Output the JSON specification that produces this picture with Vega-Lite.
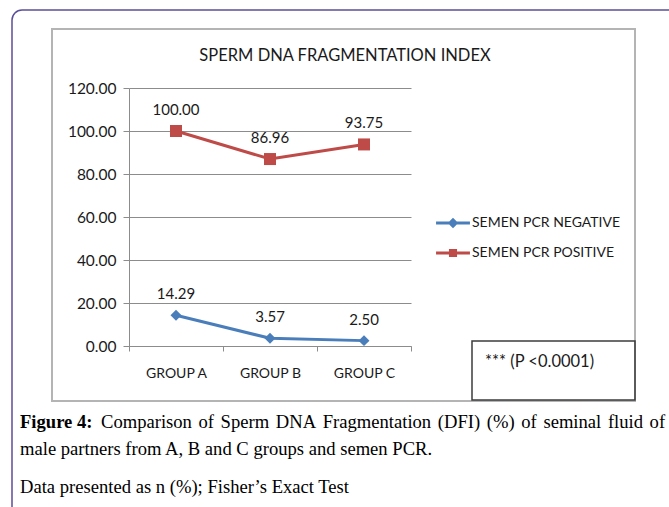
{
  "$schema": "https://vega.github.io/schema/vega-lite/v6.json",
  "width": 282,
  "height": 258,
  "autosize": {"type": "none"},
  "padding": {"left": 129, "top": 88, "right": 258, "bottom": 161},
  "background": "white",
  "title": {
    "text": "SPERM DNA FRAGMENTATION INDEX",
    "font": "Lato",
    "fontSize": 16.5,
    "fontWeight": "normal",
    "color": "#1a1a1a",
    "anchor": "middle",
    "baseline": "bottom",
    "dx": 75,
    "offset": -71
  },
  "config": {"view": {"stroke": null}, "font": "Lato"},
  "layer": [
    {
      "data": {"values": [{"box": "outer"}]},
      "mark": {"type": "rect", "filled": false, "stroke": "#5c4f98", "strokeWidth": 1.5, "cornerRadius": 10},
      "encoding": {"x": {"value": -117}, "y": {"value": -78}, "x2": {"value": 570}, "y2": {"value": 450}}
    },
    {
      "data": {"values": [{"box": "inner"}]},
      "mark": {"type": "rect", "filled": false, "stroke": "#b4b4b4", "strokeWidth": 2},
      "encoding": {"x": {"value": -77}, "y": {"value": -59}, "x2": {"value": 506}, "y2": {"value": 313}}
    },
    {
      "data": {"values": [{"box": "p"}]},
      "mark": {"type": "rect", "filled": false, "stroke": "#3c3c3c", "strokeWidth": 1.5},
      "encoding": {"x": {"value": 343}, "y": {"value": 253}, "x2": {"value": 506}, "y2": {"value": 312}}
    },
    {
      "data": {"values": [{"note": "*** (P <0.0001)"}]},
      "mark": {"type": "text", "align": "left", "baseline": "middle", "font": "Lato", "fontSize": 16.5, "color": "#1a1a1a"},
      "encoding": {"text": {"field": "note"}, "x": {"value": 356}, "y": {"value": 274}}
    },
    {
      "data": {"values": [{"cap": "Figure 4:"}]},
      "mark": {"type": "text", "align": "left", "baseline": "middle", "font": "Liberation Serif", "fontSize": 18.6, "fontWeight": "bold", "color": "#000000"},
      "encoding": {"text": {"field": "cap"}, "x": {"value": -109}, "y": {"value": 334}}
    },
    {"data": {"values": [{"cap": "Comparison"}]}, "mark": {"type": "text", "align": "left", "baseline": "middle", "font": "Liberation Serif", "fontSize": 18.6, "color": "#000000"}, "encoding": {"text": {"field": "cap"}, "x": {"value": -28}, "y": {"value": 334}}},
    {"data": {"values": [{"cap": "of"}]}, "mark": {"type": "text", "align": "left", "baseline": "middle", "font": "Liberation Serif", "fontSize": 18.6, "color": "#000000"}, "encoding": {"text": {"field": "cap"}, "x": {"value": 69.5}, "y": {"value": 334}}},
    {"data": {"values": [{"cap": "Sperm"}]}, "mark": {"type": "text", "align": "left", "baseline": "middle", "font": "Liberation Serif", "fontSize": 18.6, "color": "#000000"}, "encoding": {"text": {"field": "cap"}, "x": {"value": 91.6}, "y": {"value": 334}}},
    {"data": {"values": [{"cap": "DNA"}]}, "mark": {"type": "text", "align": "left", "baseline": "middle", "font": "Liberation Serif", "fontSize": 18.6, "color": "#000000"}, "encoding": {"text": {"field": "cap"}, "x": {"value": 146.8}, "y": {"value": 334}}},
    {"data": {"values": [{"cap": "Fragmentation"}]}, "mark": {"type": "text", "align": "left", "baseline": "middle", "font": "Liberation Serif", "fontSize": 18.6, "color": "#000000"}, "encoding": {"text": {"field": "cap"}, "x": {"value": 193.7}, "y": {"value": 334}}},
    {"data": {"values": [{"cap": "(DFI)"}]}, "mark": {"type": "text", "align": "left", "baseline": "middle", "font": "Liberation Serif", "fontSize": 18.6, "color": "#000000"}, "encoding": {"text": {"field": "cap"}, "x": {"value": 308.8}, "y": {"value": 334}}},
    {"data": {"values": [{"cap": "(%)"}]}, "mark": {"type": "text", "align": "left", "baseline": "middle", "font": "Liberation Serif", "fontSize": 18.6, "color": "#000000"}, "encoding": {"text": {"field": "cap"}, "x": {"value": 357.8}, "y": {"value": 334}}},
    {"data": {"values": [{"cap": "of"}]}, "mark": {"type": "text", "align": "left", "baseline": "middle", "font": "Liberation Serif", "fontSize": 18.6, "color": "#000000"}, "encoding": {"text": {"field": "cap"}, "x": {"value": 392.3}, "y": {"value": 334}}},
    {"data": {"values": [{"cap": "seminal"}]}, "mark": {"type": "text", "align": "left", "baseline": "middle", "font": "Liberation Serif", "fontSize": 18.6, "color": "#000000"}, "encoding": {"text": {"field": "cap"}, "x": {"value": 414.4}, "y": {"value": 334}}},
    {"data": {"values": [{"cap": "fluid"}]}, "mark": {"type": "text", "align": "left", "baseline": "middle", "font": "Liberation Serif", "fontSize": 18.6, "color": "#000000"}, "encoding": {"text": {"field": "cap"}, "x": {"value": 478.9}, "y": {"value": 334}}},
    {"data": {"values": [{"cap": "of"}]}, "mark": {"type": "text", "align": "left", "baseline": "middle", "font": "Liberation Serif", "fontSize": 18.6, "color": "#000000"}, "encoding": {"text": {"field": "cap"}, "x": {"value": 520.6}, "y": {"value": 334}}},
    {
      "data": {"values": [{"cap": "male partners from A, B and C groups and semen PCR."}]},
      "mark": {"type": "text", "align": "left", "baseline": "middle", "font": "Liberation Serif", "fontSize": 18.6, "color": "#000000"},
      "encoding": {"text": {"field": "cap"}, "x": {"value": -109}, "y": {"value": 361}}
    },
    {
      "data": {"values": [{"cap": "Data presented as n (%); Fisher’s Exact Test"}]},
      "mark": {"type": "text", "align": "left", "baseline": "middle", "font": "Liberation Serif", "fontSize": 18.6, "color": "#000000"},
      "encoding": {"text": {"field": "cap"}, "x": {"value": -109}, "y": {"value": 399}}
    },
    {
      "data": {"values": [{"series": "SEMEN PCR NEGATIVE"}, {"series": "SEMEN PCR POSITIVE"}]},
      "transform": [{"filter": "false"}],
      "mark": {"type": "point", "filled": true, "opacity": 1},
      "encoding": {
        "fill": {
          "field": "series", "type": "nominal",
          "scale": {"domain": ["SEMEN PCR NEGATIVE", "SEMEN PCR POSITIVE"], "range": ["#4A7EBB", "#BE4B48"]},
          "legend": {"title": null, "orient": "none", "legendX": 309, "legendY": 120, "padding": 0, "symbolSize": 900, "symbolStrokeWidth": 0, "symbolOpacity": 1, "labelFont": "Lato", "labelFontSize": 14, "labelColor": "#1a1a1a", "labelOffset": 4, "rowPadding": 8, "labelLimit": 300}
        },
        "shape": {
          "field": "series", "type": "nominal",
          "scale": {"domain": ["SEMEN PCR NEGATIVE", "SEMEN PCR POSITIVE"], "range": [
            "M-1.13,-0.1L-0.25,-0.1L0,-0.35L0.25,-0.1L1.13,-0.1L1.13,0.1L0.25,0.1L0,0.35L-0.25,0.1L-1.13,0.1Z",
            "M-1.13,-0.1L-0.27,-0.1L-0.27,-0.27L0.27,-0.27L0.27,-0.1L1.13,-0.1L1.13,0.1L0.27,0.1L0.27,0.27L-0.27,0.27L-0.27,0.1L-1.13,0.1Z"
          ]},
          "legend": {"title": null, "orient": "none", "legendX": 309, "legendY": 120, "padding": 0, "symbolSize": 900, "symbolStrokeWidth": 0, "symbolOpacity": 1, "labelFont": "Lato", "labelFontSize": 14, "labelColor": "#1a1a1a", "labelOffset": 4, "rowPadding": 8, "labelLimit": 300}
        }
      }
    },
    {
      "data": {"values": [
        {"group": "GROUP A", "series": "SEMEN PCR NEGATIVE", "value": 14.29},
        {"group": "GROUP B", "series": "SEMEN PCR NEGATIVE", "value": 3.57},
        {"group": "GROUP C", "series": "SEMEN PCR NEGATIVE", "value": 2.50},
        {"group": "GROUP A", "series": "SEMEN PCR POSITIVE", "value": 100.00},
        {"group": "GROUP B", "series": "SEMEN PCR POSITIVE", "value": 86.96},
        {"group": "GROUP C", "series": "SEMEN PCR POSITIVE", "value": 93.75}
      ]},
      "encoding": {
        "x": {
          "field": "group", "type": "nominal",
          "scale": {"type": "band", "paddingInner": 0, "paddingOuter": 0},
          "axis": {"title": null, "labelAngle": 0, "labelFont": "Lato", "labelFontSize": 14, "labelColor": "#1a1a1a", "labelPadding": 15, "domainColor": "#8c8c8c", "tickColor": "#8c8c8c", "tickSize": 5, "tickBand": "extent", "grid": false}
        },
        "y": {
          "field": "value", "type": "quantitative",
          "scale": {"domain": [0, 120]},
          "axis": {"title": null, "values": [0, 20, 40, 60, 80, 100, 120], "format": ".2f", "labelFont": "Lato", "labelFontSize": 15.5, "labelColor": "#1a1a1a", "labelPadding": 7, "tickSize": 6, "tickColor": "#8c8c8c", "domainColor": "#8c8c8c", "grid": true, "gridColor": "#8c8c8c", "gridWidth": 1}
        }
      },
      "layer": [
        {
          "mark": {"type": "line", "strokeWidth": 3},
          "encoding": {
            "color": {"field": "series", "type": "nominal", "scale": {"domain": ["SEMEN PCR NEGATIVE", "SEMEN PCR POSITIVE"], "range": ["#4A7EBB", "#BE4B48"]}, "legend": null}
          }
        },
        {
          "transform": [{"filter": "datum.series === 'SEMEN PCR NEGATIVE'"}],
          "mark": {"type": "point", "filled": true, "shape": "diamond", "size": 120, "opacity": 1},
          "encoding": {
            "color": {"field": "series", "type": "nominal", "legend": null}
          }
        },
        {
          "transform": [{"filter": "datum.series === 'SEMEN PCR POSITIVE'"}],
          "mark": {"type": "point", "filled": true, "shape": "square", "size": 144, "opacity": 1},
          "encoding": {
            "color": {"field": "series", "type": "nominal", "legend": null}
          }
        },
        {
          "mark": {"type": "text", "dy": -21, "font": "Lato", "fontSize": 15, "color": "#1a1a1a"},
          "encoding": {"text": {"field": "value", "type": "quantitative", "format": ".2f"}}
        }
      ]
    }
  ]
}
